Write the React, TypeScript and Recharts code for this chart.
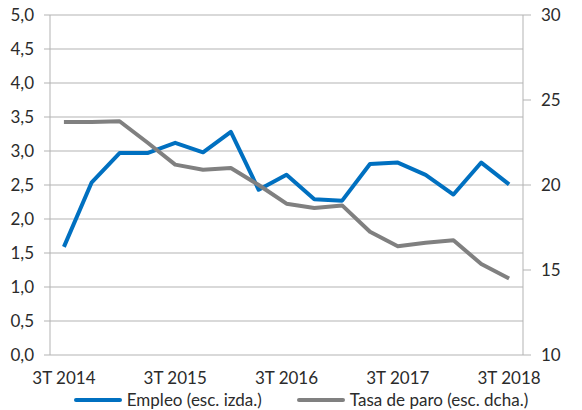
import React from 'react';
import {
  ComposedChart,
  Line,
  XAxis,
  YAxis,
  CartesianGrid,
  Legend,
} from 'recharts';

const quarters = [
  '3T 2014', '4T 2014', '1T 2015', '2T 2015', '3T 2015', '4T 2015',
  '1T 2016', '2T 2016', '3T 2016', '4T 2016', '1T 2017', '2T 2017',
  '3T 2017', '4T 2017', '1T 2018', '2T 2018', '3T 2018',
];

// Empleo, % (left scale)
const empleo = [
  1.59, 2.54, 2.97, 2.97, 3.12, 2.98, 3.28, 2.43, 2.65, 2.29, 2.27, 2.81,
  2.83, 2.65, 2.36, 2.83, 2.51,
];

// Tasa de paro, % (right scale)
const paro = [
  23.7, 23.7, 23.75, 22.5, 21.2, 20.9, 21.0, 20.0, 18.9, 18.65, 18.8, 17.25,
  16.4, 16.6, 16.75, 15.35, 14.5,
];

const leftTicks = [0, 0.5, 1, 1.5, 2, 2.5, 3, 3.5, 4, 4.5, 5];
const rightTicks = [10, 15, 20, 25, 30];

const data = quarters.map((q, i) => ({
  pos: i + 0.5,
  quarter: q,
  empleo: empleo[i],
  paro: paro[i],
}));

// tick marks sit between quarters, labels on every third quarter
const boundaryTicks = quarters.map((_, i) => i).concat(quarters.length);
const labelTicks = data.filter((d) => d.quarter.startsWith('3T')).map((d) => d.pos);

const BLUE = '#0070C0';
const GREY = '#808080';
const AXIS = '#B3B3B3';
const TEXT = '#2b2b2b';
const FONT = 'Lato, "Open Sans", sans-serif';

const tickStyle = { fill: TEXT, fontSize: 17, fontFamily: FONT };

const legendItems = [
  { label: 'Empleo (esc. izda.)', color: BLUE },
  { label: 'Tasa de paro (esc. dcha.)', color: GREY },
];

function ChartLegend() {
  return (
    <div
      style={{
        display: 'flex',
        justifyContent: 'center',
        alignItems: 'center',
        height: 26,
        paddingTop: 5,
        paddingLeft: 20,
        boxSizing: 'border-box',
        gap: 35,
        fontFamily: FONT,
        fontSize: 17,
        color: TEXT,
      }}
    >
      {legendItems.map((item) => (
        <div key={item.label} style={{ display: 'flex', alignItems: 'center', gap: 5 }}>
          <span
            style={{
              display: 'inline-block',
              width: 48,
              height: 4,
              borderRadius: 2,
              background: item.color,
            }}
          />
          <span style={{ whiteSpace: 'nowrap' }}>{item.label}</span>
        </div>
      ))}
    </div>
  );
}

const NoLabel = () => <g />;

export default function App() {
  return (
    <div style={{ position: 'absolute', left: 0, top: 0, background: '#fff' }}>
      <ComposedChart
        width={582}
        height={410}
        data={data}
        margin={{ top: 15, right: 0, bottom: 0, left: 0 }}
      >
        <CartesianGrid
          horizontal
          vertical={false}
          stroke={AXIS}
          xAxisId={0}
          yAxisId="left"
        />
        <XAxis
          xAxisId={0}
          type="number"
          dataKey="pos"
          domain={[0, quarters.length]}
          ticks={boundaryTicks}
          interval={0}
          tick={NoLabel}
          tickLine={{ stroke: AXIS }}
          tickSize={5}
          height={0}
          stroke={AXIS}
        />
        <XAxis
          xAxisId={1}
          type="number"
          dataKey="pos"
          domain={[0, quarters.length]}
          ticks={labelTicks}
          interval={0}
          tickFormatter={(v: number) => quarters[Math.floor(v)]}
          axisLine={false}
          tickLine={false}
          tickSize={0}
          tickMargin={17}
          height={29}
          tick={tickStyle}
        />
        <YAxis
          yAxisId="left"
          domain={[0, 5]}
          ticks={leftTicks}
          interval={0}
          tickFormatter={(v: number) => v.toFixed(1).replace('.', ',')}
          width={50}
          tickSize={6}
          tickMargin={10}
          stroke={AXIS}
          tick={tickStyle}
        />
        <YAxis
          yAxisId="right"
          orientation="right"
          domain={[10, 30]}
          ticks={rightTicks}
          interval={0}
          width={59}
          tickSize={8}
          tickMargin={10}
          stroke={AXIS}
          tick={tickStyle}
        />
        <Legend verticalAlign="bottom" height={26} content={<ChartLegend />} />
        <Line
          xAxisId={0}
          yAxisId="left"
          dataKey="empleo"
          type="linear"
          stroke={BLUE}
          strokeWidth={4}
          strokeLinejoin="round"
          dot={false}
          isAnimationActive={false}
        />
        <Line
          xAxisId={0}
          yAxisId="right"
          dataKey="paro"
          type="linear"
          stroke={GREY}
          strokeWidth={4}
          strokeLinejoin="round"
          dot={false}
          isAnimationActive={false}
        />
      </ComposedChart>
    </div>
  );
}
